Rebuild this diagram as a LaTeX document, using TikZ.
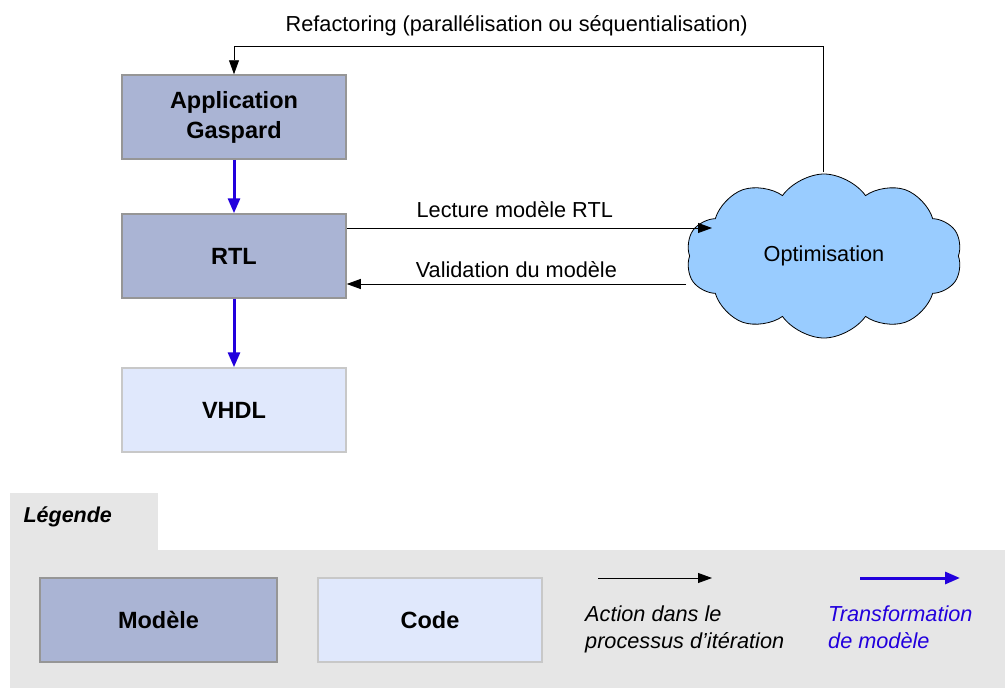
\documentclass[tikz,border=0pt]{standalone}
\usepackage{fontspec}
\setmainfont{Liberation Sans}
\definecolor{mdlfill}{RGB}{170,180,212}
\definecolor{mdldraw}{RGB}{150,150,150}
\definecolor{codefill}{RGB}{224,232,252}
\definecolor{codedraw}{RGB}{200,200,200}
\definecolor{trblue}{RGB}{34,0,221}
\definecolor{cloudblue}{RGB}{153,204,255}
\definecolor{legbg}{RGB}{230,230,230}
\usetikzlibrary{arrows.meta,shapes.symbols}

\tikzset{
  model/.style={draw=mdldraw, line width=1.5pt, fill=mdlfill, minimum width=224pt, minimum height=84pt, align=center, font=\fontsize{23.5}{30}\selectfont\bfseries},
  code/.style={draw=codedraw, line width=1.5pt, fill=codefill, minimum width=224pt, minimum height=84pt, align=center, font=\fontsize{23.5}{30}\selectfont\bfseries},
  action/.style={draw=black, line width=0.8pt, -{Triangle[length=14pt,width=10pt]}},
  transfo/.style={draw=trblue, line width=3pt, -{Triangle[length=15pt,width=12pt]}},
  lbl/.style={font=\fontsize{21.7}{27}\selectfont},
  lgd/.style={font=\fontsize{21.7}{27}\selectfont\itshape, anchor=north west, align=left, inner sep=0pt},
}

\begin{document}
\begin{tikzpicture}[x=1pt, y=-1pt]
  \useasboundingbox (0,0) rectangle (1005,688);

  % flow
  \node[model] (app) at (234,117) {Application\\Gaspard};
  \node[model] (rtl) at (234,256) {RTL};
  \node[code] (vhdl) at (234,410) {VHDL};
  \node[cloud, cloud puffs=10, cloud puff arc=110, cloud ignores aspect, draw=black, line width=0.8pt, fill=cloudblue, minimum width=276pt, minimum height=164pt, lbl] (opt) at (824,256) {Optimisation};

  \draw[transfo] (app) -- (rtl);
  \draw[transfo] (rtl) -- (vhdl);

  \coordinate (lect) at (712,228);
  \coordinate (valid) at (686,284);
  \coordinate (reffrom) at (823,172);
  \coordinate (reftop) at (823,46);
  \draw[action] (rtl.east |- lect) -- (lect) node[pos=0.46, above=7pt, lbl] {Lecture modèle RTL};
  \draw[action] (valid) -- (rtl.east |- valid) node[midway, above=3pt, lbl] {Validation du modèle};
  \draw[action] (reffrom) -- (reftop) -| (app.north) node[pos=0.26, above=6pt, lbl] {Refactoring (parallélisation ou séquentialisation)};

  % legende
  \fill[legbg] (10,493) rectangle (158,550);
  \fill[legbg] (10,550) rectangle (1005,688);
  \node[anchor=west, font=\fontsize{21.5}{24}\selectfont\bfseries\itshape] (leg) at (20,517) {Légende};
  \node[model, minimum width=237pt] (lmod) at (158.5,620) {Modèle};
  \node[code] (lcode) at (430,620) {Code};
  \coordinate (actA) at (598,578);
  \coordinate (actB) at (712,578);
  \draw[action] (actA) -- (actB);
  \node[lgd] (lact) at (585,606) {Action dans le\\processus d'itération};
  \coordinate (trA) at (860,578);
  \coordinate (trB) at (960,578);
  \draw[transfo] (trA) -- (trB);
  \node[lgd, text=trblue] (ltr) at (828,606) {Transformation\\de modèle};
\end{tikzpicture}
\end{document}
